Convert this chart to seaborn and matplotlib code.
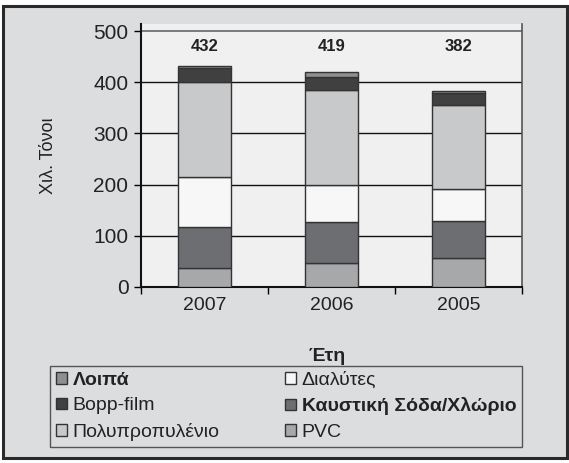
import pandas as pd
import matplotlib.pyplot as plt
import seaborn as sns
from matplotlib.patches import Rectangle, Patch

# Data (thousand tonnes), stacked bottom-up
years = ["2007", "2006", "2005"]
totals = [432, 419, 382]
pvc = [37, 46, 57]
caustic = [80, 80, 72]
solvents = [98, 74, 63]
polyprop = [186, 184, 164]
bopp = [26, 26, 23]
other = [5, 9, 3]

series = [
    ("PVC", pvc, "#a7a8aa"),
    ("Καυστική Σόδα/Χλώριο", caustic, "#6d6e71"),
    ("Διαλύτες", solvents, "#f7f7f7"),
    ("Πολυπροπυλένιο", polyprop, "#c8c9cb"),
    ("Bopp-film", bopp, "#404040"),
    ("Λοιπά", other, "#8e8f91"),
]

sns.set_style("white")
plt.rcParams['font.family'] = ['Liberation Sans', 'DejaVu Sans']

W, H = 569, 463
fig = plt.figure(figsize=(W / 100, H / 100), dpi=100)
fig.patch.set_facecolor("white")
fig.patches.append(Rectangle((3 / W, 1 - 458 / H), 564 / W, 452 / H,
                             transform=fig.transFigure, facecolor="#dcdddf",
                             edgecolor="#2a2a2a", lw=2.2, zorder=-1))

# axes box: x 141..522, y 24..287 (0 at 287, 500 at 31)
ax = fig.add_axes([141 / W, 1 - 287 / H, 381 / W, 263 / H])
ax.set_facecolor("#f0f0f0")

bottom = [0, 0, 0]
for name, vals, color in series:
    df = pd.DataFrame({"year": years, "value": vals})
    sns.barplot(data=df, x="year", y="value", color=color, bottom=bottom,
                width=0.42, edgecolor="#333333", linewidth=1.0, ax=ax,
                saturation=1, zorder=3)
    bottom = [b + v for b, v in zip(bottom, vals)]

for i, t in enumerate(totals):
    ax.text(i, 469, str(t), ha="center", va="center", fontsize=12,
            fontweight="bold", color="#222222")

ax.set_ylim(0, 513.7)
ax.set_xlim(-0.5, 2.5)
ax.set_yticks([0, 100, 200, 300, 400, 500])
ax.tick_params(axis="y", labelsize=15, length=5, width=1, color="black",
               left=True, pad=4, labelcolor="#222222")
ax.set_xticks([-0.5, 0.5, 1.5, 2.5], minor=True)
ax.tick_params(axis="x", which="major", length=0, labelsize=14, pad=7,
               labelcolor="#222222")
ax.tick_params(axis="x", which="minor", length=5, width=1, color="black",
               bottom=True)
for y in [100, 200, 300, 400]:
    ax.axhline(y, color="#111111", lw=1, zorder=1)
ax.axhline(500, color="#666666", lw=1.2, zorder=1)

ax.spines["top"].set_visible(False)
for s in ["left", "bottom"]:
    ax.spines[s].set_color("#111111")
    ax.spines[s].set_linewidth(1.5)
ax.spines["right"].set_color("#555555")
ax.spines["right"].set_linewidth(1.2)

ax.set_ylabel("Χιλ. Τόνοι", fontsize=13, color="#222222")
ax.yaxis.set_label_coords((57 - 141) / 381, 0.5)
ax.set_xlabel("Έτη", fontsize=14, fontweight="bold", color="#222222")
ax.xaxis.set_label_coords((327 - 141) / 381, (287 - 348) / 263)

legend_order = ["Λοιπά", "Bopp-film", "Πολυπροπυλένιο", "Διαλύτες",
                "Καυστική Σόδα/Χλώριο", "PVC"]
colors = {n: c for n, _, c in series}
handles = [Patch(facecolor=colors[n], edgecolor="#333333", label=n)
           for n in legend_order]
leg = fig.legend(handles=handles, ncol=2, loc="upper left",
                 bbox_to_anchor=(50 / W, 1 - 366 / H, 472 / W, 0),
                 mode="expand", frameon=True, fancybox=False, fontsize=14,
                 handlelength=0.55, handleheight=0.55, handletextpad=0.3,
                 labelspacing=0.43, borderaxespad=0, borderpad=0.3,
                 columnspacing=0.5)
leg.get_frame().set_edgecolor("#333333")
leg.get_frame().set_facecolor("#dcdddf")
leg.get_frame().set_linewidth(1)
for txt in leg.get_texts():
    txt.set_color("#222222")
    if txt.get_text() in ("Λοιπά", "Καυστική Σόδα/Χλώριο"):
        txt.set_fontweight("bold")

fig.savefig("out.png", dpi=100)
